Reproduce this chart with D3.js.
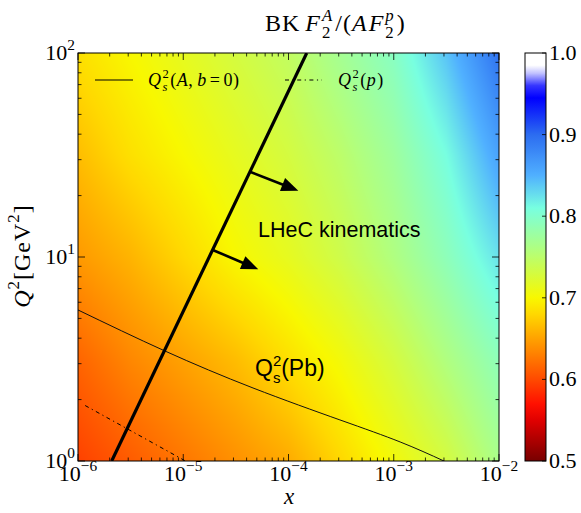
<!DOCTYPE html>
<html><head><meta charset="utf-8">
<script src="https://cdn.jsdelivr.net/npm/d3@7"></script>
<style>body{margin:0;background:#fff}svg{display:block}</style>
</head><body>
<svg id="chart" width="581" height="513"></svg>
<script>
// ---------- data ----------
const xNodes  = [1e-6, 3.16e-6, 1e-5, 3.16e-5, 1e-4, 3.16e-4, 1e-3, 3.16e-3, 1e-2];
const q2Nodes = [1, 3.16, 10, 31.6, 100];
const ratioAtQ2_1    = [0.595, 0.61, 0.625, 0.64, 0.655, 0.68, 0.705, 0.73, 0.765];
const ratioAtQ2_3    = [0.615, 0.635, 0.65, 0.665, 0.685, 0.705, 0.73, 0.76, 0.79];
const ratioAtQ2_10   = [0.645, 0.66, 0.68, 0.70, 0.715, 0.735, 0.76, 0.79, 0.825];
const ratioAtQ2_30   = [0.665, 0.685, 0.70, 0.715, 0.73, 0.75, 0.775, 0.81, 0.86];
const ratioAtQ2_100  = [0.685, 0.70, 0.715, 0.73, 0.745, 0.77, 0.795, 0.84, 0.895];
const ratioGrid = [ratioAtQ2_1, ratioAtQ2_3, ratioAtQ2_10, ratioAtQ2_30, ratioAtQ2_100];

const lhecX  = [2.09e-6, 1.49e-4];
const lhecQ2 = [1, 100];
const qsPbX  = [1e-6, 6.71e-6, 4.6e-5, 3.08e-4, 1.15e-3, 3.0e-3];
const qsPbQ2 = [5.5, 3.46, 2.28, 1.59, 1.24, 1.0];
const qsPX   = [1.17e-6, 1.05e-5];
const qsPQ2  = [1.87, 1.0];
const arrowStartX = [4.3e-5, 1.93e-5], arrowStartQ2 = [26.2, 10.8];
const arrowEndX   = [1.24e-4, 5.16e-5], arrowEndQ2   = [21.1, 8.7];

const xTicks = [1e-6, 1e-5, 1e-4, 1e-3, 1e-2];
const xTickExp = ["−6", "−5", "−4", "−3", "−2"];
const yTicks = [1, 10, 100];
const yTickExp = ["0", "1", "2"];
const cbTicks = [0.5, 0.6, 0.7, 0.8, 0.9, 1.0];
const cbTickLabels = ["0.5", "0.6", "0.7", "0.8", "0.9", "1.0"];
const cmapValues = [0.50, 0.55, 0.57, 0.60, 0.65, 0.68, 0.70, 0.76, 0.81, 0.85, 0.90, 0.945, 0.96, 0.975, 0.985, 1.0];
const cmapColors = ["#780000", "#e00000", "#ff1000", "#ff4a00", "#ffa200", "#ffd800", "#f8f800", "#b0ff80", "#78ffe0", "#50b0ff", "#2c6cf0", "#0000ff", "#3535ff", "#c0c0ff", "#ffffff", "#ffffff"];

// ---------- layout ----------
const L = 78, R = 499, T = 53, B = 461;
const CBL = 525, CBR = 546;
const serif = "'Liberation Serif', 'Times New Roman', serif";
const sans = "'Liberation Sans', Arial, sans-serif";

const svg = d3.select("#chart");
const xScale = d3.scaleLog().domain([1e-6, 1e-2]).range([L, R]);
const yScale = d3.scaleLog().domain([1, 100]).range([B, T]);
const color = d3.scaleLinear().domain(cmapValues).range(cmapColors).interpolate(d3.interpolateRgb).clamp(true);

const fxIdx = d3.scaleLinear().domain(xNodes.map(Math.log10)).range(d3.range(xNodes.length)).clamp(true);
const fqIdx = d3.scaleLinear().domain(q2Nodes.map(Math.log10)).range(d3.range(q2Nodes.length)).clamp(true);
function ratioAt(x, q2) {
  const fi = fxIdx(Math.log10(x)), fj = fqIdx(Math.log10(q2));
  const i0 = Math.min(Math.floor(fi), xNodes.length - 2), j0 = Math.min(Math.floor(fj), q2Nodes.length - 2);
  const tx = fi - i0, ty = fj - j0;
  const a = ratioGrid[j0][i0], b = ratioGrid[j0][i0 + 1], c = ratioGrid[j0 + 1][i0], d = ratioGrid[j0 + 1][i0 + 1];
  return (a * (1 - tx) + b * tx) * (1 - ty) + (c * (1 - tx) + d * tx) * ty;
}

// ---------- heatmap ----------
const W = R - L, H = B - T;
const canvas = document.createElement("canvas");
canvas.width = W; canvas.height = H;
const ctx = canvas.getContext("2d");
const img = ctx.createImageData(W, H);
for (let j = 0; j < H; j++) {
  const q2 = yScale.invert(T + j + 0.5);
  for (let i = 0; i < W; i++) {
    const x = xScale.invert(L + i + 0.5);
    const c = d3.rgb(color(ratioAt(x, q2)));
    const k = (j * W + i) * 4;
    img.data[k] = c.r; img.data[k + 1] = c.g; img.data[k + 2] = c.b; img.data[k + 3] = 255;
  }
}
ctx.putImageData(img, 0, 0);
svg.append("image").attr("x", L).attr("y", T).attr("width", W).attr("height", H)
  .attr("preserveAspectRatio", "none").attr("href", canvas.toDataURL());

// ---------- math text helper ----------
function mathText(parent, x, y, parts, o) {
  const g = parent.append("g");
  const inner = g.append("g");
  const fs = o.size, fam = o.family || serif, ls = o.spacing || 0;
  let cx = 0;
  const put = (t, px, py, size, it) => {
    const el = inner.append("text").attr("x", px).attr("y", py)
      .attr("font-family", fam).attr("font-size", size).attr("letter-spacing", ls)
      .attr("font-style", it ? "italic" : "normal").attr("fill", "#000").text(t);
    return el.node().getComputedTextLength();
  };
  parts.forEach(p => {
    if (p.t !== undefined) {
      cx += put(p.t, cx, 0, fs, p.it) + (p.gap || 0);
    } else {
      let w = 0;
      const sc = p.scale || 0.7;
      if (p.sup !== undefined) w = Math.max(w, put(p.sup, cx, -fs * (p.supUp || 0.42), fs * sc, p.supIt));
      if (p.sub !== undefined) w = Math.max(w, put(p.sub, cx, fs * (p.subDown || 0.25), fs * sc, p.subIt));
      cx += w + (p.gap || 0);
    }
  });
  let off = 0;
  if (o.anchor === "middle") off = -cx / 2; else if (o.anchor === "end") off = -cx;
  g.attr("transform", `translate(${x},${y})` + (o.rotate ? ` rotate(${o.rotate})` : ""));
  inner.attr("transform", `translate(${off},0)`);
  return g;
}

// ---------- lines ----------
const lineGen = d3.line().x(d => xScale(d[0])).y(d => yScale(d[1]));
svg.append("clipPath").attr("id", "pc").append("rect").attr("x", L).attr("y", T).attr("width", W).attr("height", H);
const plot = svg.append("g").attr("clip-path", "url(#pc)");

plot.append("path").datum(qsPX.map((x, i) => [x, qsPQ2[i]]))
  .attr("d", lineGen).attr("fill", "none").attr("stroke", "#000").attr("stroke-width", 1)
  .attr("stroke-dasharray", "4,3.5,1.2,3.5");
plot.append("path").datum(qsPbX.map((x, i) => [x, qsPbQ2[i]]))
  .attr("d", lineGen.curve(d3.curveNatural)).attr("fill", "none").attr("stroke", "#111").attr("stroke-width", 1);
lineGen.curve(d3.curveLinear);
plot.append("path").datum(lhecX.map((x, i) => [x, lhecQ2[i]]))
  .attr("d", lineGen).attr("fill", "none").attr("stroke", "#000").attr("stroke-width", 3.2);

// arrows
arrowStartX.forEach((sx, i) => {
  const x0 = xScale(sx), y0 = yScale(arrowStartQ2[i]);
  const x1 = xScale(arrowEndX[i]), y1 = yScale(arrowEndQ2[i]);
  const ang = Math.atan2(y1 - y0, x1 - x0);
  const hl = 17, hw = 7;
  const bx = x1 - hl * Math.cos(ang), by = y1 - hl * Math.sin(ang);
  plot.append("line").attr("x1", x0).attr("y1", y0).attr("x2", bx + 2 * Math.cos(ang)).attr("y2", by + 2 * Math.sin(ang))
    .attr("stroke", "#000").attr("stroke-width", 2.6);
  const px = -Math.sin(ang), py = Math.cos(ang);
  plot.append("path").attr("d", `M${x1},${y1}L${bx + hw * px},${by + hw * py}L${bx - hw * px},${by - hw * py}Z`).attr("fill", "#000");
});

// ---------- frame & ticks ----------
const axes = svg.append("g");
axes.append("rect").attr("x", L).attr("y", T).attr("width", W).attr("height", H)
  .attr("fill", "none").attr("stroke", "#000").attr("stroke-width", 1);
function minorsOf(decs) {
  const out = [];
  for (let d = 0; d < decs.length - 1; d++) for (let m = 2; m <= 9; m++) out.push(decs[d] * m);
  return out;
}
const xMinor = minorsOf(xTicks), yMinor = minorsOf(yTicks);
const tickG = axes.append("g").attr("stroke", "#000").attr("stroke-width", 0.8);
const MAJ = 7, MIN = 3.5;
xTicks.forEach(v => {
  const px = xScale(v);
  tickG.append("line").attr("x1", px).attr("x2", px).attr("y1", B).attr("y2", B - MAJ);
  tickG.append("line").attr("x1", px).attr("x2", px).attr("y1", T).attr("y2", T + MAJ);
});
xMinor.forEach(v => {
  const px = xScale(v);
  tickG.append("line").attr("x1", px).attr("x2", px).attr("y1", B).attr("y2", B - MIN);
  tickG.append("line").attr("x1", px).attr("x2", px).attr("y1", T).attr("y2", T + MIN);
});
yTicks.forEach(v => {
  const py = yScale(v);
  tickG.append("line").attr("x1", L).attr("x2", L + MAJ).attr("y1", py).attr("y2", py);
  tickG.append("line").attr("x1", R).attr("x2", R - MAJ).attr("y1", py).attr("y2", py);
});
yMinor.forEach(v => {
  const py = yScale(v);
  tickG.append("line").attr("x1", L).attr("x2", L + MIN).attr("y1", py).attr("y2", py);
  tickG.append("line").attr("x1", R).attr("x2", R - MIN).attr("y1", py).attr("y2", py);
});

// tick labels
xTicks.forEach((v, i) => {
  mathText(svg, xScale(v), 481, [{ t: "10" }, { sup: xTickExp[i], supUp: 0.45 }], { size: 22, anchor: "middle" });
});
yTicks.forEach((v, i) => {
  mathText(svg, 75, yScale(v) + 7, [{ t: "10" }, { sup: yTickExp[i], supUp: 0.45 }], { size: 22, anchor: "end" });
});

// axis titles
mathText(svg, 289, 504, [{ t: "x", it: true }], { size: 23, anchor: "middle" });
mathText(svg, 30, 256, [{ t: "Q", it: true }, { sup: "2", supUp: 0.45 }, { t: "[GeV" }, { sup: "2", supUp: 0.45 }, { t: "]" }],
  { size: 24, anchor: "middle", rotate: -90, spacing: 1 });

// title
mathText(svg, 265, 31, [
  { t: "BK ", gap: 5 }, { t: "F", it: true, gap: 1 }, { sub: "2", sup: "A", supIt: true, subDown: 0.3, gap: 2 },
  { t: "/(" }, { t: "A", it: true, gap: 1 }, { t: "F", it: true, gap: 1 }, { sub: "2", sup: "p", supIt: true, subDown: 0.3, gap: 2 }, { t: ")" }
], { size: 24, anchor: "start", spacing: 1 });

// legend
svg.append("line").attr("x1", 95).attr("x2", 133).attr("y1", 80).attr("y2", 80).attr("stroke", "#000").attr("stroke-width", 1);
mathText(svg, 148, 86, [{ t: "Q", it: true, gap: 1 }, { sup: "2", sub: "s", subIt: true, supUp: 0.42, subDown: 0.25, gap: 1 },
  { t: "(" }, { t: "A", it: true }, { t: ",", gap: 4 }, { t: "b", it: true, gap: 3 }, { t: "=", gap: 3 }, { t: "0)" }], { size: 18, anchor: "start", spacing: 0.5 });
svg.append("line").attr("x1", 285).attr("x2", 322).attr("y1", 80).attr("y2", 80).attr("stroke", "#000").attr("stroke-width", 1)
  .attr("stroke-dasharray", "4,3.5,1.2,3.5");
mathText(svg, 338, 86, [{ t: "Q", it: true, gap: 1 }, { sup: "2", sub: "s", subIt: true, supUp: 0.42, subDown: 0.25, gap: 1 },
  { t: "(" }, { t: "p", it: true, gap: 1 }, { t: ")" }], { size: 18, anchor: "start", spacing: 0.5 });

// annotations
svg.append("text").attr("x", 258).attr("y", 237).attr("font-family", sans).attr("font-size", 21.5).attr("fill", "#000").text("LHeC kinematics");
mathText(svg, 255, 376, [{ t: "Q" }, { sup: "2", sub: "s", supUp: 0.42, subDown: 0.3, scale: 0.65 }, { t: "(Pb)" }], { size: 23, family: sans, anchor: "start" });

// ---------- colorbar ----------
const cbScale = d3.scaleLinear().domain([0.5, 1.0]).range([B, T]);
const grad = svg.append("defs").append("linearGradient").attr("id", "cbg")
  .attr("x1", 0).attr("y1", 1).attr("x2", 0).attr("y2", 0);
d3.range(0, 101).forEach(k => {
  const v = 0.5 + k * 0.005;
  grad.append("stop").attr("offset", (k / 100)).attr("stop-color", color(v));
});
svg.append("rect").attr("x", CBL).attr("y", T).attr("width", CBR - CBL).attr("height", B - T)
  .attr("fill", "url(#cbg)").attr("stroke", "#000").attr("stroke-width", 1);
cbTicks.forEach((v, i) => {
  const py = cbScale(v);
  svg.append("line").attr("x1", CBR).attr("x2", CBR - 4).attr("y1", py).attr("y2", py).attr("stroke", "#000").attr("stroke-width", 0.8);
  svg.append("text").attr("x", 549).attr("y", py + 7).attr("font-family", serif).attr("font-size", 22).attr("fill", "#000").text(cbTickLabels[i]);
});
</script>
</body></html>
